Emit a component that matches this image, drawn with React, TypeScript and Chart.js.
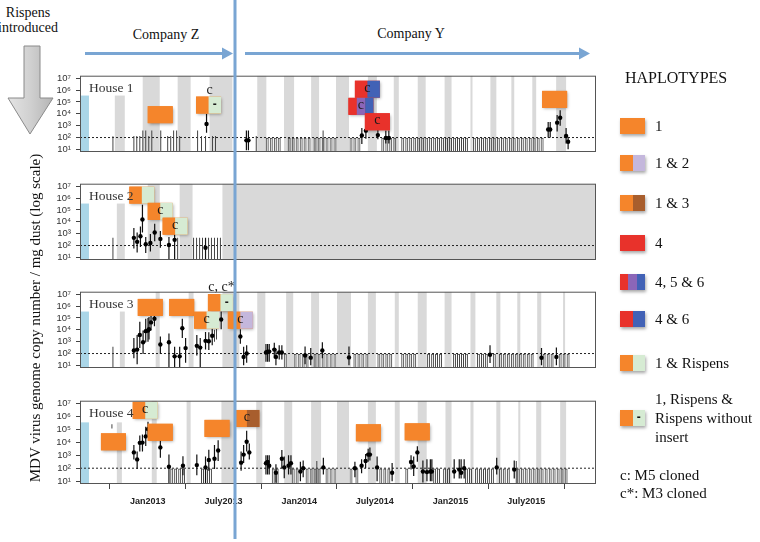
import React, { useEffect, useRef } from 'react';
import { Chart, registerables } from 'chart.js';
Chart.register(...registerables);

// ---------- colours ----------
const O = '#f5852b';   // haplotype 1
const G = '#d6ebd3';   // Rispens
const L = '#c4b7dc';   // haplotype 2
const BR = '#a85e2d';  // haplotype 3
const R = '#e8322b';   // haplotype 4
const P = '#8b66b8';   // haplotype 5
const B6 = '#4262b6';  // haplotype 6
const BAND = '#d9d9d9';
const SKY = '#aad6e8';
const LINE_BLUE = '#79a5d3';

// ---------- axes ----------
const X_MIN = 6.63;   // months since Jan 2012
const X_MAX = 47.53;
const Y_MIN = 6;
const Y_MAX = 1.66e7;
const X_TICKS = [12, 18, 24, 30, 36, 42];
const X_TICK_LABELS = ['Jan2013', 'July2013', 'Jan2014', 'July2014', 'Jan2015', 'July2015'];
const Y_TICKS = [10, 100, 1e3, 1e4, 1e5, 1e6, 1e7];
const Y_TICK_LABELS = ['10\u00b9', '10\u00b2', '10\u00b3', '10\u2074', '10\u2075', '10\u2076', '10\u2077'];
const DETECTION_LIMIT = 100;
const ND_TOP = 95;

// ---------- shared bands ----------
const BLUE_BAND = [6.63, 7.34];
const PARTIAL_TOP = 3.5e5;

// ---------- House 1 ----------
const h1Partial = [[9.39, 10.18]];
const h1Bands = [[11.6, 12.95], [14.37, 15.4], [16.9, 18.71], [20.68, 21.4], [22.8, 23.6], [24.95, 25.58], [26.92, 27.95], [29.45, 30.16], [31.5, 31.9], [33.4, 34.03], [35.53, 36.08], [37.58, 37.74], [39.16, 39.63], [40.82, 41.05], [42.48, 42.79], [44.37, 45.16]];
const h1Nd = [21.47, 21.79, 22.11, 22.42, 23.21, 23.53, 23.84, 24.16, 24.47, 24.79, 25.26, 25.58, 25.9, 26.21, 26.53, 26.84, 28.11, 28.42, 28.74, 30.63, 30.95, 31.26, 31.58, 32.21, 32.53, 32.84, 33.16, 33.47, 33.79, 34.11, 34.42, 34.74, 35.05, 35.37, 35.68, 36.0, 36.32, 36.63, 36.95, 37.26, 37.89, 38.21, 38.53, 38.84, 39.16, 39.47, 39.79, 40.11, 40.42, 40.74, 41.05, 41.37, 41.69, 42.0, 42.32, 42.63, 42.95, 43.26];
const h1Lines = [[9.24, 1, 130], [10.9, 1, 135], [11.13, 1, 135], [11.37, 1, 135], [11.61, 1, 400], [11.84, 1, 400], [12.08, 1, 135], [12.32, 1, 400], [13.03, 1, 400], [13.58, 1, 135], [13.82, 1, 135], [14.05, 1, 400], [14.29, 1, 400], [14.53, 1, 135], [15.95, 1, 400], [16.26, 1, 135], [16.58, 1, 135], [17.13, 1, 135], [17.37, 1, 135], [20.6, 1, 135], [25.9, 1, 400]];
// [month, value, low, high]
const h1Points = [[16.66, 1400, 250, 10000], [19.82, 58, 8.5, 400], [19.98, 58, 8.5, 400], [28.97, 150, 28, 630], [29.29, 380, 80, 800], [30.24, 160, 71, 630], [30.87, 90, 32, 400], [31.11, 90, 32, 400], [43.74, 480, 100, 2000], [43.9, 480, 100, 2000], [44.45, 1800, 316, 7900], [44.69, 4700, 1000, 20000], [45.16, 135, 32, 630], [45.32, 44, 10, 100]];
const h1Boxes = [
  { x: 12.99, y: 8500, colors: [O] },
  { x: 16.82, y: 55000, colors: [O, G], minus: true, above: 'c' },
  { x: 29.41, y: 1.2e6, colors: [R, B6], text: 'c' },
  { x: 28.9, y: 43000, colors: [R, P, B6], text: 'c' },
  { x: 30.2, y: 2150, colors: [R], text: 'c' },
  { x: 44.25, y: 166000, colors: [O] },
];

// ---------- House 2 ----------
const h2Partial = [[9.55, 10.18]];
const h2Bands = [[12.0, 12.95], [14.53, 15.55], [17.92, 47.53]];
const h2Nd: number[] = [];
const h2Lines = [[9.24, 1, 450], [14.37, 1, 450], [15.63, 1, 450], [15.87, 1, 450], [16.11, 1, 450], [16.34, 1, 450], [16.82, 1, 450], [17.05, 1, 450], [17.29, 1, 450], [17.53, 1, 450], [17.76, 1, 450]];
const h2Points = [[10.9, 447, 55, 2950], [11.16, 204, 26, 1259], [11.42, 603, 74, 3981], [11.58, 15849, 1259, 275423], [11.84, 129, 23, 537], [12.21, 162, 32, 933], [12.55, 1259, 229, 6918], [13.0, 363, 65, 1660], [13.68, 110, 5, 537], [14.13, 302, 5, 2239], [16.58, 65, 5, 447]];
const h2Boxes = [
  { x: 11.53, y: 1.8e6, colors: [O, G] },
  { x: 12.99, y: 7.7e4, colors: [O, G], text: 'c' },
  { x: 14.17, y: 4300, colors: [O, G], text: 'c' },
];

// ---------- House 3 ----------
const h3Partial = [[9.79, 10.18]];
const h3Bands = [[12.63, 12.95], [15.24, 15.63], [17.92, 19.26], [20.68, 21.32], [22.97, 23.53], [24.95, 25.58], [27.0, 28.11], [29.45, 30.08], [31.58, 31.9], [33.4, 34.11], [35.53, 36.08], [37.58, 37.97], [39.63, 39.95], [41.29, 41.53], [42.87, 43.19], [44.92, 45.08]];
const h3Nd = [22.9, 23.68, 24.0, 24.32, 24.63, 25.26, 25.58, 25.9, 26.21, 26.53, 26.84, 28.42, 28.74, 29.05, 29.37, 30.32, 30.63, 30.95, 31.26, 32.21, 32.53, 32.84, 33.16, 34.26, 34.58, 34.89, 35.21, 36.32, 36.63, 36.95, 37.26, 38.21, 38.53, 38.84, 39.47, 39.95, 40.26, 40.58, 40.9, 41.21, 41.53, 41.84, 42.16, 42.47, 43.42, 43.74, 44.05, 44.69, 45.0, 45.32];
const h3Lines = [[9.24, 1, 380], [17.29, 1000, 10000], [17.45, 1500, 12000]];
const h3Points = [[10.9, 182, 39, 2089], [11.16, 214, 12.6, 3715], [11.37, 3715, 288, 47863], [11.63, 891, 91, 8710], [11.84, 7762, 891, 85114], [12.02, 8710, 1000, 1e5], [12.1, 11482, 1500, 1.2e5], [12.26, 42658, 8710, 263027], [12.53, 85114, 20417, 346737], [13.0, 575, 91, 2754], [13.68, 891, 5, 4898], [14.13, 58, 5, 380], [14.53, 58, 5, 380], [14.74, 13490, 2089, 85114], [15.0, 288, 16.6, 2089], [15.89, 447, 69, 3715], [16.16, 316, 5, 2089], [16.58, 1175, 214, 6457], [16.84, 1100, 200, 6300], [17.11, 3162, 501, 15488], [17.82, 74131, 11482, 346737], [19.34, 2754, 676, 11482], [19.6, 52, 10, 380], [19.84, 100, 16.6, 501], [21.37, 123, 20, 631], [21.5, 145, 20, 631], [21.63, 145, 20, 631], [22.03, 214, 40, 794], [22.16, 52, 10, 251], [22.42, 123, 32, 501], [22.63, 123, 32, 501], [24.47, 69, 12.6, 398], [24.92, 45, 10, 300], [25.84, 182, 40, 891], [27.95, 47, 10, 398], [39.13, 78, 16, 501], [43.21, 44, 10, 300], [44.39, 52, 10, 330]];
const h3Boxes = [
  { x: 12.2, y: 7.8e5, colors: [O] },
  { x: 14.69, y: 7.8e5, colors: [O] },
  { x: 17.76, y: 2e6, colors: [O, G], minus: true, above: 'c, c*' },
  { x: 16.66, y: 6.5e4, colors: [O, G], text: 'c' },
  { x: 19.34, y: 6.5e4, colors: [O, L], text: 'c' },
];

// ---------- House 4 ----------
const h4Partial = [[9.55, 9.95]];
const h4Bands = [[12.32, 12.71], [15.08, 15.4], [17.84, 18.87], [20.6, 21.08], [22.82, 23.45], [24.95, 25.74], [27.0, 27.95], [29.45, 30.08], [31.58, 31.97], [33.4, 34.11], [35.6, 36.08], [37.58, 37.82], [39.63, 39.95], [41.37, 41.53], [42.79, 43.19], [44.69, 45.16]];
const h4Nd = [13.9, 14.21, 14.53, 14.84, 16.34, 16.66, 16.97, 21.95, 22.26, 23.53, 23.84, 24.63, 24.95, 25.26, 25.58, 26.21, 26.53, 26.84, 28.11, 28.58, 30.47, 30.79, 31.11, 32.53, 34.74, 35.05, 35.53, 35.84, 37.26, 37.58, 38.05, 38.37, 38.69, 39.0, 39.32, 39.95, 40.26, 40.58, 41.37, 41.69, 42.0, 42.32, 42.63, 42.95, 43.26, 43.58, 43.9, 44.21, 44.53, 44.84, 45.16];
const h4Lines = [[9.16, 1.2e5, 2.5e5], [25.4, 1, 363], [41.21, 1, 363]];
const h4Points = [[10.9, 1660, 479, 6166], [11.16, 479, 87, 1995], [11.37, 9120, 1995, 33884], [11.58, 9550, 1995, 39811], [11.84, 28840, 5248, 158489], [12.02, 104713, 25119, 398107], [13.0, 4074, 631, 14454], [13.68, 129, 5, 1122], [14.79, 155, 28, 851], [15.89, 174, 28, 1122], [16.58, 115, 5, 794], [16.84, 427, 63, 2630], [17.29, 537, 87, 6166], [17.58, 2344, 363, 14454], [19.4, 269, 63, 1995], [19.6, 1122, 251, 6166], [19.84, 10965, 1995, 79433], [20.05, 1660, 479, 8128], [21.37, 240, 32, 1000], [21.5, 302, 32, 1000], [21.63, 155, 32, 1000], [22.16, 44, 7.4, 200], [22.63, 537, 100, 2512], [22.82, 115, 16.6, 794], [23.16, 158, 32, 1000], [23.35, 240, 32, 1000], [24.1, 55, 10, 316], [24.32, 100, 20, 400], [25.92, 115, 32, 631], [28.42, 98, 20, 316], [28.95, 155, 40, 501], [29.27, 363, 100, 1259], [29.47, 1122, 316, 3162], [29.61, 1122, 400, 3981], [30.18, 115, 10, 794], [31.37, 44, 10, 251], [32.87, 302, 79, 1000], [33.08, 135, 25, 794], [33.37, 1660, 316, 5012], [33.81, 55, 7.9, 398], [34.13, 50, 10, 501], [34.4, 55, 10, 501], [34.52, 55, 10, 501], [36.29, 55, 16, 501], [36.69, 78, 16, 501], [36.84, 44, 16, 501], [37.08, 98, 16, 501], [39.66, 115, 32, 631], [41.05, 78, 16, 398]];
const h4Boxes = [
  { x: 11.8, y: 3e6, colors: [O, G], text: 'c' },
  { x: 9.28, y: 1.1e4, colors: [O] },
  { x: 12.99, y: 6e4, colors: [O] },
  { x: 17.49, y: 1.2e5, colors: [O] },
  { x: 19.86, y: 7e5, colors: [O, BR], text: 'c' },
  { x: 29.49, y: 5.5e4, colors: [O] },
  { x: 33.36, y: 6.5e4, colors: [O] },
];

// ---------- legend ----------
const LEGEND_LABELS = ['1', '1 & 2', '1 & 3', '4', '4, 5 & 6', '4 & 6', '1 & Rispens'];
const LEGEND_COLORS = [[O], [O, L], [O, BR], [R], [R, P, B6], [R, B6], [O, G]];

const HOUSES = [
  { name: 'House 1', top: 73, bottom: 160, partial: h1Partial, bands: h1Bands, nd: h1Nd, lines: h1Lines, points: h1Points, boxes: h1Boxes },
  { name: 'House 2', top: 181, bottom: 268, partial: h2Partial, bands: h2Bands, nd: h2Nd, lines: h2Lines, points: h2Points, boxes: h2Boxes },
  { name: 'House 3', top: 289, bottom: 376, partial: h3Partial, bands: h3Bands, nd: h3Nd, lines: h3Lines, points: h3Points, boxes: h3Boxes },
  { name: 'House 4', top: 398, bottom: 484, partial: h4Partial, bands: h4Bands, nd: h4Nd, lines: h4Lines, points: h4Points, boxes: h4Boxes },
];

const SERIF = '"Liberation Serif", "Times New Roman", serif';
const SANS = '"Liberation Sans", Arial, sans-serif';

function Panel({ house, showX }: { house: any; showX: boolean }) {
  const ref = useRef<HTMLCanvasElement>(null);
  const padTop = 8;
  const extra = showX ? 32 : 8;
  const h = house.bottom - house.top + padTop + extra;
  useEffect(() => {
    const bandPlugin = {
      id: 'bands',
      beforeDatasetsDraw(chart: any) {
        const { ctx, chartArea: a, scales } = chart;
        const xs = scales.x, ys = scales.y;
        ctx.save();
        ctx.beginPath();
        ctx.rect(a.left, a.top, a.right - a.left, a.bottom - a.top);
        ctx.clip();
        ctx.fillStyle = BAND;
        house.bands.forEach(([s, e]: number[]) => {
          const x1 = xs.getPixelForValue(s), x2 = xs.getPixelForValue(e);
          ctx.fillRect(x1, a.top, x2 - x1, a.bottom - a.top);
        });
        const pt = ys.getPixelForValue(PARTIAL_TOP);
        house.partial.forEach(([s, e]: number[]) => {
          const x1 = xs.getPixelForValue(s), x2 = xs.getPixelForValue(e);
          ctx.fillRect(x1, pt, x2 - x1, a.bottom - pt);
        });
        ctx.fillStyle = SKY;
        const b1 = xs.getPixelForValue(BLUE_BAND[0]), b2 = xs.getPixelForValue(BLUE_BAND[1]);
        ctx.fillRect(b1, pt, b2 - b1, a.bottom - pt);
        ctx.restore();
      },
    };
    const boxPlugin = {
      id: 'boxes',
      afterDatasetsDraw(chart: any) {
        const { ctx, chartArea: a, scales } = chart;
        const xs = scales.x, ys = scales.y;
        house.boxes.forEach((b: any) => {
          const cx = xs.getPixelForValue(b.x), cy = ys.getPixelForValue(b.y);
          const w = 25, hh = 17;
          const l = cx - w / 2, t = cy - hh / 2;
          ctx.save();
          ctx.shadowColor = 'rgba(0,0,0,0.35)';
          ctx.shadowBlur = 3;
          ctx.shadowOffsetX = 1;
          ctx.shadowOffsetY = 1.5;
          ctx.fillStyle = b.colors[0];
          ctx.fillRect(l, t, w, hh);
          ctx.restore();
          const n = b.colors.length;
          b.colors.forEach((c: string, i: number) => {
            ctx.fillStyle = c;
            ctx.fillRect(l + (w * i) / n, t, w / n, hh);
          });
          ctx.save();
          ctx.fillStyle = '#1a1a1a';
          ctx.textAlign = 'center';
          ctx.textBaseline = 'middle';
          if (b.minus) {
            ctx.font = 'bold 12px ' + SANS;
            ctx.fillText('-', l + w * 0.75, cy);
          }
          if (b.text) {
            ctx.font = '14px ' + SERIF;
            ctx.fillText(b.text, cx, cy - 1);
          }
          if (b.above) {
            ctx.font = '14px ' + SERIF;
            ctx.textBaseline = 'alphabetic';
            ctx.fillText(b.above, cx + 1, t - 3);
          }
          ctx.restore();
        });
        // frame + house label
        ctx.save();
        ctx.strokeStyle = '#555';
        ctx.lineWidth = 1;
        ctx.strokeRect(a.left + 0.5, a.top + 0.5, a.right - a.left - 1, a.bottom - a.top - 1);
        ctx.fillStyle = '#333';
        ctx.font = '13.5px ' + SERIF;
        ctx.textBaseline = 'middle';
        ctx.textAlign = 'left';
        ctx.fillText(house.name, a.left + 9, a.top + 13);
        ctx.restore();
      },
    };
    const chart = new Chart(ref.current as HTMLCanvasElement, {
      type: 'scatter',
      data: {
        datasets: [
          {
            type: 'scatter',
            data: house.points.map((p: number[]) => ({ x: p[0], y: p[1] })),
            pointRadius: 2.2,
            pointBackgroundColor: '#000',
            pointBorderWidth: 0,
          } as any,
          {
            type: 'bar',
            data: house.points.map((p: number[]) => ({ x: p[0], y: [p[2], p[3]] })),
            backgroundColor: '#111',
            barThickness: 1.2,
            inflateAmount: 0,
            grouped: false,
          },
          {
            type: 'bar',
            data: house.lines.map((p: number[]) => ({ x: p[0], y: [p[1], p[2]] })),
            backgroundColor: '#444',
            barThickness: 1,
            inflateAmount: 0,
            grouped: false,
          },
          {
            type: 'bar',
            data: house.nd.map((x: number) => ({ x, y: [1, ND_TOP] })),
            backgroundColor: 'rgba(0,0,0,0)',
            borderColor: '#444',
            borderWidth: 1,
            borderSkipped: 'bottom',
            barThickness: 3,
            inflateAmount: 0,
            grouped: false,
          },
          {
            type: 'line',
            data: [{ x: X_MIN, y: DETECTION_LIMIT }, { x: X_MAX, y: DETECTION_LIMIT }],
            borderColor: '#222',
            borderWidth: 1,
            borderDash: [2, 2],
            pointRadius: 0,
          },
        ],
      } as any,
      options: {
        animation: false,
        responsive: false,
        events: [],
        layout: { padding: { left: 0, right: 2, top: padTop, bottom: showX ? 0 : extra } },
        plugins: { legend: { display: false }, tooltip: { enabled: false } },
        scales: {
          x: {
            type: 'linear',
            min: X_MIN,
            max: X_MAX,
            offset: false,
            display: showX,
            grid: { drawOnChartArea: false, drawTicks: true, tickLength: 5, color: '#444' },
            border: { display: false },
            afterBuildTicks: (s: any) => { s.ticks = X_TICKS.map((v) => ({ value: v })); },
            afterFit: (s: any) => { s.height = extra; },
            ticks: {
              autoSkip: false,
              maxRotation: 0,
              padding: 7,
              color: '#222',
              font: { family: SANS, size: 9, weight: 'bold' },
              callback: (_v: any, i: number) => X_TICK_LABELS[i],
            },
          },
          y: {
            type: 'logarithmic',
            min: Y_MIN,
            max: Y_MAX,
            grid: { drawOnChartArea: false, drawTicks: true, tickLength: 4, color: '#444' },
            border: { display: false },
            afterBuildTicks: (s: any) => { s.ticks = Y_TICKS.map((v) => ({ value: v })); },
            afterFit: (s: any) => { s.width = 80; },
            ticks: {
              autoSkip: false,
              padding: 5,
              color: '#333',
              font: { family: SANS, size: 9.5 },
              callback: (_v: any, i: number) => Y_TICK_LABELS[i],
            },
          },
        },
      } as any,
      plugins: [bandPlugin, boxPlugin],
    });
    return () => chart.destroy();
  }, []);
  return (
    <canvas
      ref={ref}
      width={600}
      height={h}
      style={{ position: 'absolute', left: 0, top: house.top - padTop, width: 600, height: h }}
    />
  );
}

function Swatch({ colors, minus, left, top }: { colors: string[]; minus?: boolean; left: number; top: number }) {
  return (
    <div style={{ position: 'absolute', left, top, width: 25, height: 16, display: 'flex', boxShadow: '1px 2px 3px rgba(0,0,0,0.35)' }}>
      {colors.map((c, i) => (
        <div key={i} style={{ flex: 1, background: c, fontFamily: SANS, fontWeight: 'bold', fontSize: 12, lineHeight: '15px', textAlign: 'center', color: '#111' }}>
          {minus && i === colors.length - 1 ? '-' : ''}
        </div>
      ))}
    </div>
  );
}

export default function App() {
  const legendCenters = [126, 163, 203, 243, 282, 319, 363];
  const txt = (s: any) => ({ position: 'absolute' as const, fontFamily: SERIF, color: '#111', whiteSpace: 'nowrap' as const, ...s });
  return (
    <div style={{ position: 'absolute', left: 0, top: 0, width: 760, height: 542, background: '#fff', overflow: 'hidden' }}>
      {HOUSES.map((h, i) => (
        <Panel key={h.name} house={h} showX={i === 3} />
      ))}

      {/* top annotations */}
      <div style={txt({ left: -2, top: 5, width: 60, textAlign: 'center', fontSize: 14, lineHeight: '15px' })}>
        Rispens<br />introduced
      </div>
      <div style={txt({ left: 116, top: 27, width: 100, textAlign: 'center', fontSize: 14 })}>Company Z</div>
      <div style={txt({ left: 361, top: 26, width: 100, textAlign: 'center', fontSize: 14 })}>Company Y</div>
      <div
        style={txt({
          left: 35 - 180,
          top: 318 - 10,
          width: 360,
          height: 20,
          lineHeight: '20px',
          textAlign: 'center',
          fontSize: 15,
          transform: 'rotate(-90deg)',
        })}
      >
        MDV virus genome copy number / mg dust (log scale)
      </div>

      <svg width={760} height={542} style={{ position: 'absolute', left: 0, top: 0, pointerEvents: 'none' }}>
        <defs>
          <linearGradient id="ga" x1="0" x2="1" y1="0" y2="0">
            <stop offset="0" stopColor="#e4e4e4" />
            <stop offset="0.5" stopColor="#d0d0d0" />
            <stop offset="1" stopColor="#b4b4b4" />
          </linearGradient>
        </defs>
        <polygon points="24,46 40,46 40,98 53,98 30,134 8,98 24,98" fill="url(#ga)" stroke="#8a8a8a" strokeWidth={1} />
        <line x1={85} y1={53.5} x2={225} y2={53.5} stroke={LINE_BLUE} strokeWidth={3} />
        <polygon points="222,47.5 233,53.5 222,59.5" fill={LINE_BLUE} />
        <line x1={245} y1={53.5} x2={582} y2={53.5} stroke={LINE_BLUE} strokeWidth={3} />
        <polygon points="579,47.5 590,53.5 579,59.5" fill={LINE_BLUE} />
        <line x1={235} y1={0} x2={235} y2={539} stroke={LINE_BLUE} strokeWidth={3} />
      </svg>

      {/* legend */}
      <div style={txt({ left: 625, top: 67, fontSize: 16, lineHeight: '22px' })}>HAPLOTYPES</div>
      {LEGEND_LABELS.map((lab, i) => (
        <React.Fragment key={lab}>
          <Swatch colors={LEGEND_COLORS[i]} left={620} top={legendCenters[i] - 8} />
          <div style={txt({ left: 655, top: legendCenters[i] - 10, fontSize: 15, lineHeight: '20px' })}>{lab}</div>
        </React.Fragment>
      ))}
      <Swatch colors={[O, G]} minus left={620} top={410} />
      <div style={txt({ left: 655, top: 390, fontSize: 15, lineHeight: '19px' })}>
        1, Rispens &amp;<br />Rispens without<br />insert
      </div>
      <div style={txt({ left: 620, top: 466, fontSize: 15, lineHeight: '18px' })}>
        c: M5 cloned<br />c*: M3 cloned
      </div>
    </div>
  );
}
